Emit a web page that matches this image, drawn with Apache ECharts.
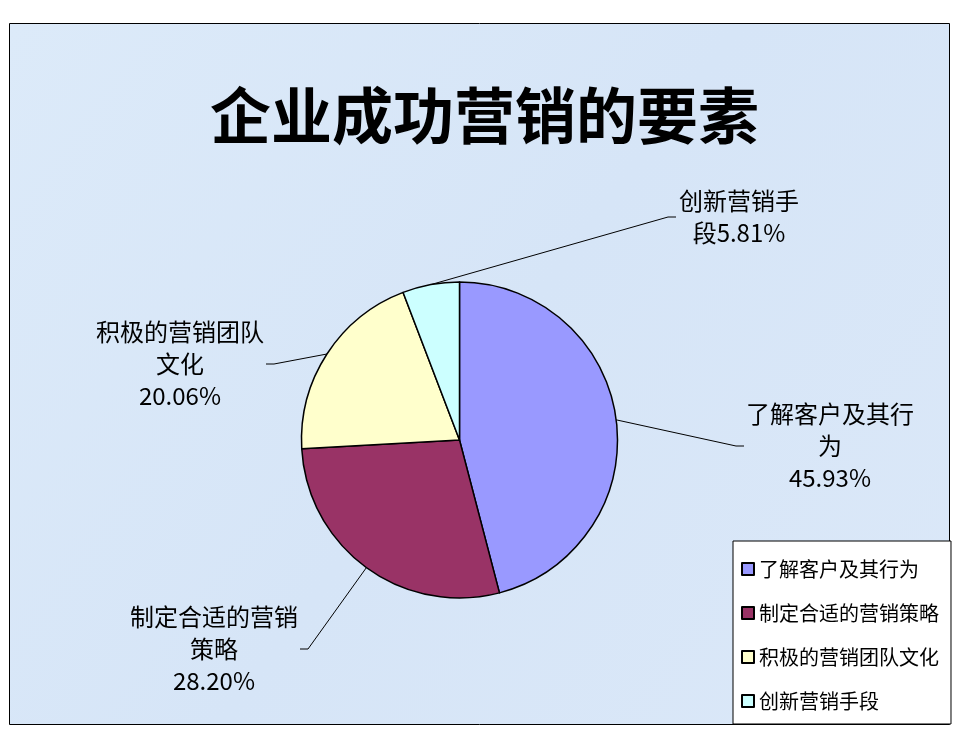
<!DOCTYPE html>
<html>
<head>
<meta charset="utf-8">
<script src="https://cdn.jsdelivr.net/npm/echarts@6/dist/echarts.min.js"></script>
<style>
html,body{margin:0;padding:0;background:#fff;}
#main{width:960px;height:735px;}
</style>
</head>
<body>
<div id="main"></div>
<script>
const titleText = '企业成功营销的要素';
const categories = ['了解客户及其行为', '制定合适的营销策略', '积极的营销团队文化', '创新营销手段'];
const values = [45.93, 28.20, 20.06, 5.81];
const colors = ['#9999FF', '#993366', '#FFFFCC', '#CCFFFF'];

// label layout (text box centres and wrap widths)
const labelPos = [[830, 446], [214, 649], [180, 364], [739, 217]];
const labelWidth = [172, 172, 172, 126];
const pctSameLine = [false, false, false, true];

const FONT = '"Noto Sans CJK SC", "Noto Sans", sans-serif';

const chart = echarts.init(document.getElementById('main'), null, {renderer: 'canvas'});

const data = categories.map((name, i) => ({
  name: name,
  value: values[i],
  itemStyle: {color: colors[i]},
  label: {width: labelWidth[i]}
}));

chart.setOption({
  backgroundColor: '#ffffff',
  animation: false,
  graphic: [{
    type: 'rect',
    z: -10,
    silent: true,
    shape: {x: 9.5, y: 23.5, width: 940, height: 701},
    style: {
      fill: {
        type: 'linear', x: 0, y: 0, x2: 1, y2: 1,
        colorStops: [
          {offset: 0, color: '#DCEAF9'},
          {offset: 0.5, color: '#D6E5F7'},
          {offset: 1, color: '#DBE8F8'}
        ]
      },
      stroke: '#000', lineWidth: 1
    }
  }],
  title: {
    text: titleText,
    left: 205,
    top: 80,
    textStyle: {fontFamily: FONT, fontSize: 61, fontWeight: 'bold', color: '#000'}
  },
  legend: {
    orient: 'vertical',
    left: 733,
    top: 541,
    padding: [18, 12, 13, 8],
    itemGap: 24,
    itemWidth: 12,
    itemHeight: 12,
    icon: 'rect',
    backgroundColor: '#ffffff',
    borderColor: '#000',
    borderWidth: 1,
    itemStyle: {borderColor: '#000', borderWidth: 2},
    textStyle: {fontFamily: FONT, fontSize: 20, color: '#000'},
    data: categories
  },
  series: [{
    type: 'pie',
    center: [459.5, 440],
    radius: 158,
    startAngle: 90,
    clockwise: true,
    avoidLabelOverlap: false,
    itemStyle: {borderColor: '#000', borderWidth: 1.5},
    emphasis: {disabled: true},
    label: {
      show: true,
      position: 'outside',
      fontFamily: FONT,
      fontSize: 24,
      lineHeight: 32,
      color: '#000',
      overflow: 'break',
      align: 'center',
      formatter: p => pctSameLine[p.dataIndex]
        ? p.name + p.value.toFixed(2) + '%'
        : p.name + '\n' + p.value.toFixed(2) + '%'
    },
    labelLine: {
      show: true,
      length: 20,
      length2: 8,
      lineStyle: {color: '#000', width: 1}
    },
    labelLayout: function (params) {
      const pos = labelPos[params.dataIndex];
      return {x: pos[0], y: pos[1], align: 'center', verticalAlign: 'middle'};
    },
    data: data
  }]
});
</script>
</body>
</html>
